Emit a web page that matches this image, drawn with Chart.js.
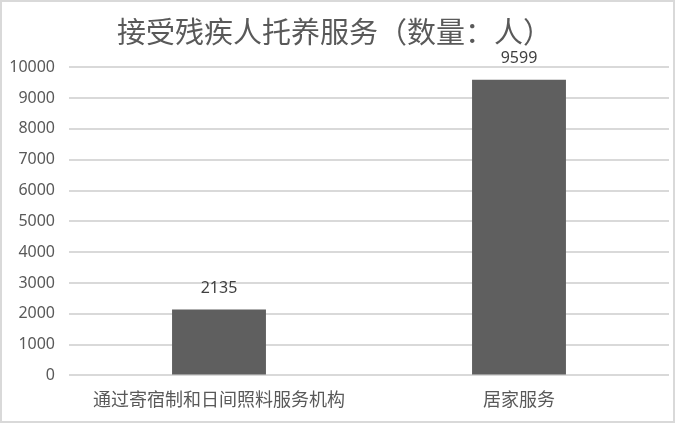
<!DOCTYPE html>
<html><head><meta charset="utf-8">
<script src="https://cdn.jsdelivr.net/npm/chart.js@4/dist/chart.umd.min.js"></script>
<style>
html,body{margin:0;padding:0;background:#fff;}
#wrap{width:675px;height:423px;position:relative;}
</style></head>
<body><div id="wrap"><canvas id="c"></canvas></div>
<script>
const chartTitle = '接受残疾人托养服务（数量：人）';
const categories = ['通过寄宿制和日间照料服务机构', '居家服务'];
const values = [2135, 9599];
const yTicks = [0,1000,2000,3000,4000,5000,6000,7000,8000,9000,10000];

const borderPlugin = {
  id: 'outerBorder',
  beforeDraw(chart) {
    const ctx = chart.ctx;
    ctx.save();
    ctx.fillStyle = '#ffffff';
    ctx.fillRect(0, 0, chart.width, chart.height);
    ctx.strokeStyle = '#d9d9d9';
    ctx.lineWidth = 2;
    ctx.strokeRect(1, 1, chart.width - 2, chart.height - 2);
    ctx.restore();
  }
};

const labelPlugin = {
  id: 'valLabels',
  afterDatasetsDraw(chart) {
    const ctx = chart.ctx;
    const meta = chart.getDatasetMeta(0);
    ctx.save();
    ctx.font = '16px "Noto Sans", sans-serif';
    ctx.fillStyle = '#404040';
    ctx.textAlign = 'center';
    ctx.textBaseline = 'alphabetic';
    meta.data.forEach((el, i) => {
      ctx.fillText(String(values[i]), el.x, el.y - 17);
    });
    ctx.restore();
  }
};

new Chart(document.getElementById('c'), {
  type: 'bar',
  data: {
    labels: categories,
    datasets: [{ data: values, backgroundColor: '#5f5f5f', barPercentage: 0.313, categoryPercentage: 1 }]
  },
  options: {
    responsive: true,
    maintainAspectRatio: false,
    animation: false,
    layout: { padding: { top: 0, left: 0, right: 6, bottom: 0 } },
    plugins: {
      legend: { display: false },
      tooltip: { enabled: false },
      title: {
        display: true,
        text: chartTitle,
        color: '#595959',
        font: { size: 29, family: '"Noto Sans CJK SC", sans-serif', weight: 'normal', lineHeight: 1.2 },
        padding: { top: 15, bottom: 17.5 }
      }
    },
    scales: {
      x: {
        grid: { display: false, drawTicks: false },
        border: { display: false },
        ticks: { color: '#595959', font: { size: 18, family: '"Noto Sans CJK SC", sans-serif' }, padding: 13, maxRotation: 0, autoSkip: false }
      },
      y: {
        min: 0, max: 10000,
        afterBuildTicks(axis) { axis.ticks = yTicks.map(v => ({ value: v })); },
        afterFit(axis) { axis.width = 69; },
        grid: { color: '#d9d9d9', lineWidth: 2, drawTicks: false },
        border: { display: false },
        ticks: {
          color: '#595959',
          font: { size: 16, family: '"Noto Sans", sans-serif' },
          padding: 14,
          callback: (v) => String(v)
        }
      }
    }
  },
  plugins: [borderPlugin, labelPlugin]
});
</script></body></html>
